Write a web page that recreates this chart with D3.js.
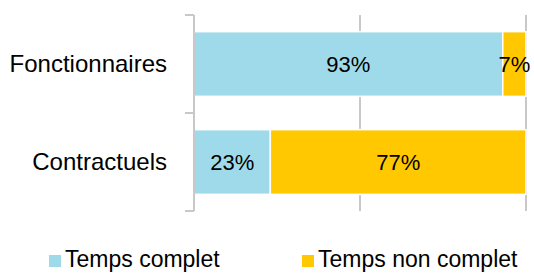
<!DOCTYPE html>
<html>
<head>
<meta charset="utf-8">
<script src="https://cdn.jsdelivr.net/npm/d3@7"></script>
<style>
  body { margin: 0; background: #fff; }
  text { font-family: "Liberation Sans", "DejaVu Sans", sans-serif; fill: #000; }
</style>
</head>
<body>
<script>
// data
const categories = ["Fonctionnaires", "Contractuels"];
const seriesNames = ["Temps complet", "Temps non complet"];
const tempsComplet = [93, 23];
const tempsNonComplet = [7, 77];
const xTicks = [0, 50, 100];
const colors = ["#9fdaeb", "#ffc800"];

const width = 534, height = 273;
const svg = d3.select("body").append("svg")
    .attr("width", width)
    .attr("height", height);

const x = d3.scaleLinear().domain([0, 100]).range([194, 526]);
const y = d3.scaleBand().domain(categories).range([15, 211]).paddingInner(0.34).paddingOuter(0.17);

const rows = categories.map((c, i) => ({ cat: c, v0: tempsComplet[i], v1: tempsNonComplet[i] }));
const stack = d3.stack().keys(["v0", "v1"])(rows);

// gridlines
svg.selectAll("line.grid")
    .data(xTicks.slice(1))
    .enter()
    .append("line")
    .attr("x1", d => x(d))
    .attr("x2", d => x(d))
    .attr("y1", 15)
    .attr("y2", 211)
    .attr("stroke", "#c8c8c8")
    .attr("stroke-width", 2);

// bars
stack.forEach((s, k) => {
    svg.selectAll("rect.s" + k)
        .data(s)
        .enter()
        .append("rect")
        .attr("x", d => x(d[0]))
        .attr("y", d => y(d.data.cat))
        .attr("width", d => x(d[1]) - x(d[0]))
        .attr("height", y.bandwidth())
        .attr("fill", colors[k])
        .attr("stroke", "#fff")
        .attr("stroke-width", 1.5);

    svg.selectAll("text.s" + k)
        .data(s)
        .enter()
        .append("text")
        .attr("x", d => (x(d[0]) + x(d[1])) / 2)
        .attr("y", d => y(d.data.cat) + y.bandwidth() / 2 + 8)
        .attr("text-anchor", "middle")
        .attr("font-size", 22)
        .text(d => (d[1] - d[0]) + "%");
});

// y axis line + ticks
svg.append("line")
    .attr("x1", 194).attr("x2", 194)
    .attr("y1", 15).attr("y2", 211)
    .attr("stroke", "#c8c8c8").attr("stroke-width", 2);

const tickYs = [15, 113, 211];
svg.selectAll("line.ytick")
    .data(tickYs)
    .enter()
    .append("line")
    .attr("x1", 185).attr("x2", 194)
    .attr("y1", d => d).attr("y2", d => d)
    .attr("stroke", "#c8c8c8").attr("stroke-width", 2);

// category labels
svg.selectAll("text.cat")
    .data(categories)
    .enter()
    .append("text")
    .attr("x", 167)
    .attr("y", d => y(d) + y.bandwidth() / 2 + 8)
    .attr("text-anchor", "end")
    .attr("font-size", 24)
    .text(d => d);

// legend
const legendX = [49, 302];
const lg = svg.selectAll("g.legend")
    .data(seriesNames)
    .enter()
    .append("g")
    .attr("transform", (d, i) => `translate(${legendX[i]},255)`);
lg.append("rect")
    .attr("width", 12).attr("height", 12)
    .attr("fill", (d, i) => colors[i]);
lg.append("text")
    .attr("x", 16)
    .attr("y", 12)
    .attr("font-size", 23)
    .text(d => d);
</script>
</body>
</html>
